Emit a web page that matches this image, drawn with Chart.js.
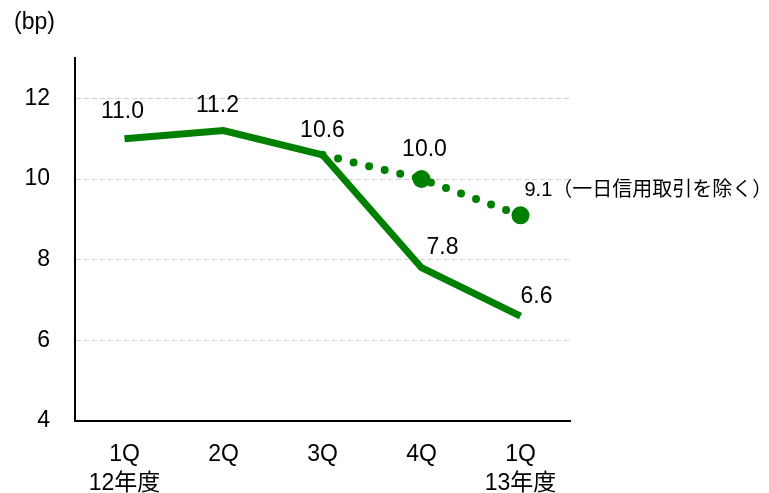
<!DOCTYPE html>
<html>
<head>
<meta charset="utf-8">
<script src="https://cdn.jsdelivr.net/npm/chart.js@4/dist/chart.umd.min.js"></script>
<style>
  html, body { margin: 0; padding: 0; background: #fff; }
  #wrap { width: 769px; height: 493px; position: relative; }
</style>
</head>
<body>
<div id="wrap"><canvas id="c"></canvas></div>
<script>
// データ
const categories = [['1Q', '12年度'], '2Q', '3Q', '4Q', ['1Q', '13年度']];
const marginAll = [11.0, 11.2, 10.6, 7.8, 6.6];          // 実線
const marginExDayTrade = [null, null, 10.6, 10.0, 9.1];  // 点線（一日信用取引を除く）
const yTicks = [4, 6, 8, 10, 12];
const unitLabel = '(bp)';
const noteLabel = '（一日信用取引を除く）';

const GREEN = '#008000';
const FONT = '"Liberation Sans", Arial, "Noto Sans CJK JP", sans-serif';
const FONT_SIZE = 23;
const NOTE_SIZE = 20;

// ラベル位置（点からのずれ）
const solidOffsets = [[-2, -27], [-6, -25], [0, -24], [21, -20], [16, -19]];
const dottedOffsets = [null, null, null, [3, -29], [4, -25]];

const labelPlugin = {
    id: 'labels',
    afterDatasetsDraw(chart) {
        const ctx = chart.ctx;
        ctx.save();
        ctx.fillStyle = '#000';
        ctx.font = FONT_SIZE + 'px ' + FONT;
        ctx.textBaseline = 'middle';

        // 単位
        ctx.textAlign = 'left';
        ctx.fillText(unitLabel, 14, 23);

        chart.getDatasetMeta(0).data.forEach((pt, i) => {
            const o = solidOffsets[i];
            ctx.textAlign = 'center';
            ctx.fillText(marginAll[i].toFixed(1), pt.x + o[0], pt.y + o[1]);
        });
        chart.getDatasetMeta(1).data.forEach((pt, i) => {
            const o = dottedOffsets[i];
            if (!o || marginExDayTrade[i] == null) return;
            if (i === marginExDayTrade.length - 1) {
                // 最後の点は注記付き（やや小さめ）
                ctx.font = NOTE_SIZE + 'px ' + FONT;
                ctx.textAlign = 'left';
                ctx.fillText(marginExDayTrade[i].toFixed(1) + noteLabel, pt.x + o[0], pt.y + o[1]);
                ctx.font = FONT_SIZE + 'px ' + FONT;
            } else {
                ctx.textAlign = 'center';
                ctx.fillText(marginExDayTrade[i].toFixed(1), pt.x + o[0], pt.y + o[1]);
            }
        });
        ctx.restore();
    }
};

new Chart(document.getElementById('c'), {
    type: 'line',
    data: {
        labels: categories,
        datasets: [
            {
                data: marginAll,
                borderColor: GREEN,
                borderWidth: 7,
                borderJoinStyle: 'miter',
                pointRadius: 0,
                tension: 0,
                order: 1
            },
            {
                data: marginExDayTrade,
                borderColor: GREEN,
                backgroundColor: GREEN,
                borderWidth: 8,
                borderDash: [0, 16],
                borderCapStyle: 'round',
                pointRadius: [0, 0, 0, 9, 9],
                pointBorderWidth: 0,
                tension: 0,
                order: 2
            }
        ]
    },
    options: {
        responsive: true,
        maintainAspectRatio: false,
        animation: false,
        layout: { padding: { top: 58, right: 199, left: 0, bottom: 0 } },
        plugins: { legend: { display: false }, tooltip: { enabled: false } },
        scales: {
            x: {
                offset: true,
                grid: { display: false, drawTicks: false },
                border: { color: '#000', width: 2 },
                ticks: {
                    color: '#000',
                    font: { size: FONT_SIZE, family: FONT, lineHeight: 1.26 },
                    padding: 19,
                    maxRotation: 0
                },
                afterFit: (s) => { s.height = 72; }
            },
            y: {
                min: 4,
                max: 13,
                afterBuildTicks: (s) => { s.ticks = yTicks.map(v => ({ value: v })); },
                grid: {
                    color: (c) => c.tick && c.tick.value === 4 ? 'rgba(0,0,0,0)' : '#d0d0d0',
                    lineWidth: 1,
                    drawTicks: false
                },
                border: { color: '#000', width: 2, dash: [5, 3] },
                ticks: { color: '#000', font: { size: FONT_SIZE, family: FONT }, padding: 25 },
                afterFit: (s) => { s.width = 75; }
            }
        }
    },
    plugins: [labelPlugin]
});
</script>
</body>
</html>
